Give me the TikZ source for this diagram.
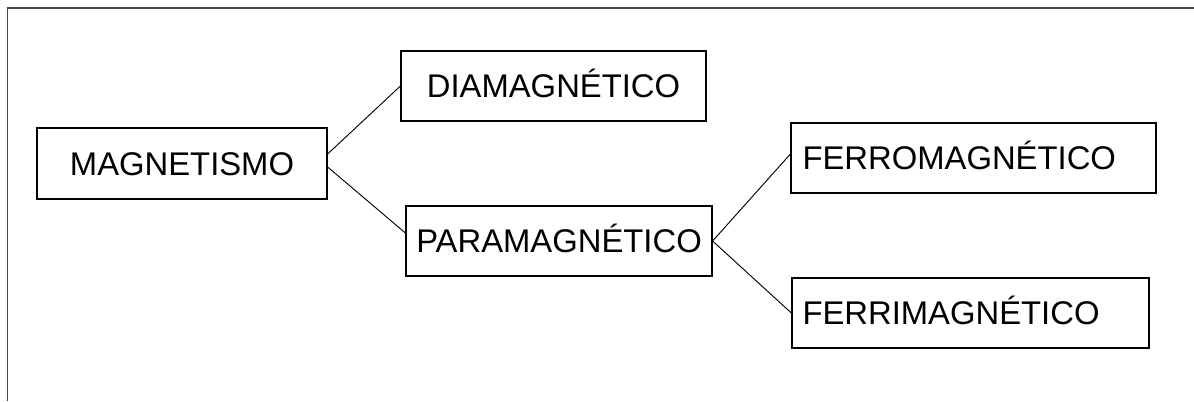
\documentclass[tikz,border=0pt]{standalone}
\usepackage{fontspec}
\setmainfont{Liberation Sans}
\begin{document}
\begin{tikzpicture}[x=0.75pt,y=-0.75pt,
  box/.style={draw=black,line width=0.9pt,rectangle,inner sep=0pt,
    font=\fontsize{24.6pt}{28pt}\selectfont,text height=17.4pt,text depth=0pt},
  link/.style={draw=black,line width=0.7pt},
  frame/.style={draw=black!72,line width=1.4pt}]
\useasboundingbox (0,0) rectangle (1194,401);
\draw[frame] (7.5,401) -- (7.5,8) -- (1194,8);
\node[box,minimum width=217.5pt,minimum height=53.25pt] (mag) at (182,163.5) {MAGNETISMO};
\node[box,minimum width=228.75pt,minimum height=52.5pt] (dia) at (553.5,86) {DIAMAGNÉTICO};
\node[box,minimum width=229.5pt,minimum height=52.5pt] (para) at (559,241) {PARAMAGNÉTICO};
\node[box,minimum height=52.5pt,inner xsep=8.6pt,text width=256.5pt,align=left] (ferro) at (973.5,158) {FERROMAGNÉTICO};
\node[box,minimum height=52.5pt,inner xsep=7.9pt,text width=252pt,align=left] (ferri) at (970.5,313) {FERRIMAGNÉTICO};
\draw[link] ([yshift=7.1pt]mag.east) -- (dia.west);
\draw[link] ([yshift=-2.6pt]mag.east) -- ([yshift=6pt]para.west);
\draw[link] (para.east) -- ([yshift=3pt]ferro.west);
\draw[link] (para.east) -- (ferri.west);
\end{tikzpicture}
\end{document}
